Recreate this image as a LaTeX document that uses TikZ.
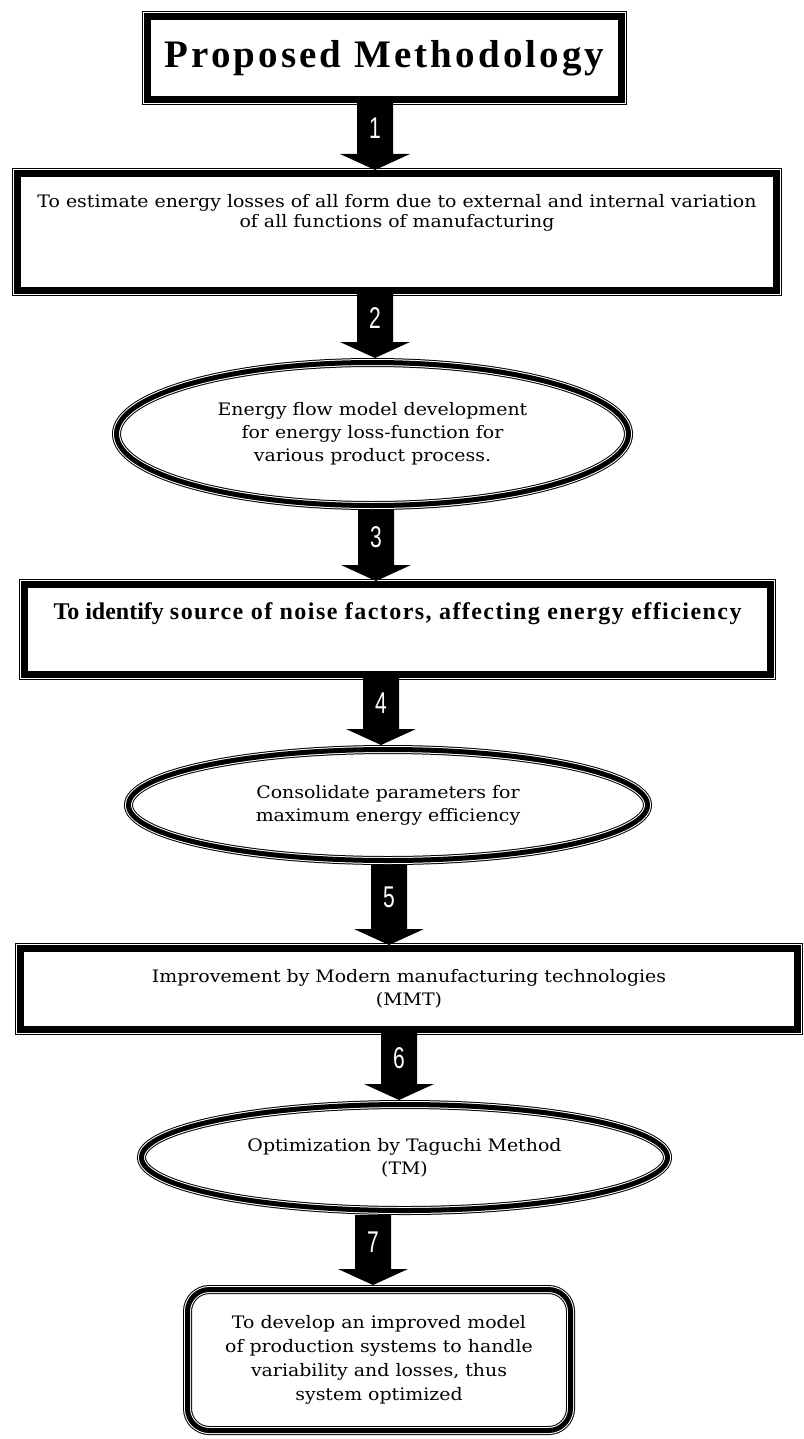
\documentclass[tikz,border=0pt]{standalone}
\usepackage{fontspec}
\setmainfont[FakeStretch=1.1]{DejaVu Serif}
\newfontfamily\titlefont[LetterSpace=8]{Liberation Serif}
\newfontfamily\boldfont{Liberation Serif}
\newfontfamily\spacedfont[LetterSpace=6]{Liberation Serif}
\newfontfamily\numfont[FakeStretch=0.7]{Liberation Sans}
\usetikzlibrary{shapes.geometric,calc}

\begin{document}
\begin{tikzpicture}[x=0.5pt, y=-0.5pt,
  every node/.style={inner sep=0pt, align=center, font=\fontsize{8.6}{11.5}\selectfont},
  box/.style={rectangle, draw, line width=3.5pt},
  oval/.style={ellipse, draw, line width=2.5pt, outer sep=2.25pt,
    preaction={draw, line width=4.5pt}, preaction={draw=white, line width=3.5pt}},
  roundbox/.style={oval, rectangle, rounded corners=11pt},
  num/.style={text=white, font=\numfont\fontsize{15}{15}\selectfont}]

  \useasboundingbox (0,0) rectangle (803,1439);

  \node[box, minimum width=237pt, minimum height=41.5pt,
    font=\titlefont\bfseries\fontsize{19.5}{22}\selectfont] (t) at (384.5,58) {Proposed Methodology};
  \node[box, minimum width=379.5pt, minimum height=58.5pt] (b1) at (397,232)
    {\parbox[c][38pt][t]{375pt}{\centering\fontsize{8.6}{10.2}\selectfont
      To estimate energy losses of all form due to external and internal variation\\
      of all functions of manufacturing}};
  \node[oval, minimum width=256pt, minimum height=71.5pt] (e2) at (372.5,434)
    {Energy flow model development\\ for energy loss-function for\\ various product process.};
  \node[box, minimum width=373pt, minimum height=45pt] (b3) at (397.5,629.5)
    {\parbox[c][26.5pt][t]{370pt}{\centering\boldfont\bfseries\fontsize{12}{14}\selectfont
      To identify {\spacedfont source of noise factors, affecting energy efficiency}}};
  \node[oval, minimum width=259.5pt, minimum height=55.5pt] (e4) at (388,805)
    {Consolidate parameters for\\ maximum energy efficiency};
  \node[box, minimum width=388.5pt, minimum height=40.5pt] (b5) at (409,989)
    {Improvement by Modern manufacturing technologies\\ (MMT)};
  \node[oval, minimum width=263pt, minimum height=53pt] (e6) at (404.5,1157.5)
    {Optimization by Taguchi Method\\ (TM)};
  \node[roundbox, minimum width=191.5pt, minimum height=70.5pt,
    font=\fontsize{8.6}{12}\selectfont] (b7) at (379,1360)
    {To develop an improved model\\ of production systems to handle\\ variability and losses, thus\\ system optimized};

  % thin outer line of the frames
  \foreach \bx in {t,b1,b3,b5}
    \draw[line width=0.5pt] ($(\bx.north west)+(-0.75pt,0.75pt)$) rectangle ($(\bx.south east)+(0.75pt,-0.75pt)$);

  % numbered block arrows
  \foreach \src/\dst/\ax/\lab in {t/b1/375/1, b1/e2/375/2, e2/b3/376/3, b3/e4/381/4,
                                  e4/b5/389/5, b5/e6/399/6, e6/b7/373/7}
    \fill let \p1=(\src.south -| \ax,0), \p2=(\dst.north -| \ax,0) in
      (\x1-9pt,\y1) -- (\x1+9pt,\y1) -- (\x1+9pt,\y2+8pt) -- (\x1+17.5pt,\y2+8pt)
      -- (\x2,\y2) -- (\x1-17.5pt,\y2+8pt) -- (\x1-9pt,\y2+8pt) -- cycle
      node[num] (n\lab) at (\x1,{(\y1+\y2)/2+4pt}) {\lab};
\end{tikzpicture}
\end{document}
